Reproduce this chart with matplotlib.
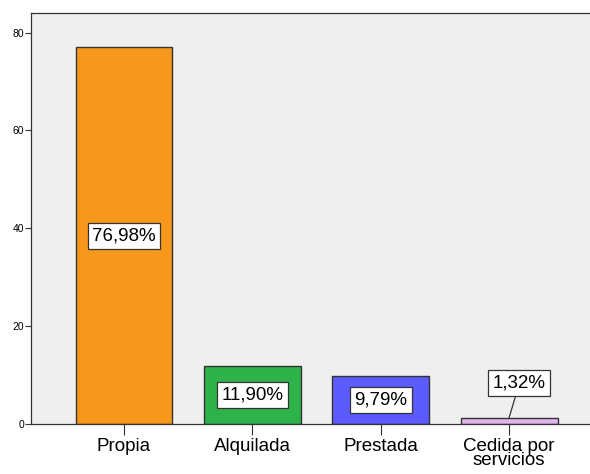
import matplotlib
matplotlib.use("Agg")
import matplotlib.pyplot as plt

# data
categorias = ["Propia", "Alquilada", "Prestada", "Cedida por\nservicios"]
porcentajes = [76.98, 11.90, 9.79, 1.32]
etiquetas = ["76,98%", "11,90%", "9,79%", "1,32%"]
colores = ["#F7981D", "#2EB34A", "#5B5BFF", "#E3B3F0"]
yticks = [0, 20, 40, 60, 80]

plt.rcParams['font.family'] = ['Liberation Sans', 'DejaVu Sans']

fig = plt.figure(figsize=(5.9, 4.74), dpi=100)
ax = fig.add_axes([0.0525, 0.1055, 0.9475, 0.867])
ax.set_facecolor("#EFEFEF")

xs = list(range(len(categorias)))
ax.bar(xs, porcentajes, width=0.755, color=colores, edgecolor="#333333", linewidth=1.0, zorder=2)

box = dict(boxstyle="square,pad=0.24", facecolor="white", edgecolor="#333333", linewidth=0.9)
for i, (v, t) in enumerate(zip(porcentajes, etiquetas)):
    if v > 5:
        ax.text(i, v / 2, t, ha="center", va="center", fontsize=13.5, bbox=box, zorder=3)
    else:
        # small bar: label above with a leader line
        ax.annotate(t, xy=(i, v), xytext=(i + 0.08, v + 7.0), ha="center", va="center",
                    fontsize=13.5, bbox=box, zorder=3,
                    arrowprops=dict(arrowstyle="-", color="#333333", linewidth=0.9,
                                    shrinkA=0, shrinkB=0))

ax.set_xlim(-0.725, 3.63)
ax.set_ylim(0, 84)
ax.set_xticks(xs)
ax.set_xticklabels(categorias, fontsize=13.5, linespacing=0.8)
ax.set_yticks(yticks)
ax.tick_params(axis="y", labelsize=7.5, length=4, width=0.8, color="#333333", pad=1)
ax.tick_params(axis="x", length=8, width=0.8, color="#333333", pad=2)
for s in ax.spines.values():
    s.set_color("#333333")
    s.set_linewidth(0.9)
ax.spines["right"].set_visible(False)

fig.savefig("out.png", dpi=100)
